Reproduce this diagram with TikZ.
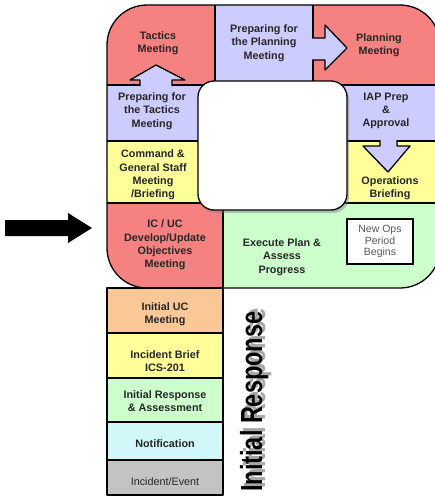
\documentclass[tikz,border=0pt]{standalone}
\usepackage{fontspec}
\setmainfont{Liberation Sans}
\usepackage{graphicx}
\usetikzlibrary{shadows}
\definecolor{icsRed}{RGB}{245,130,128}
\definecolor{icsLavender}{RGB}{204,204,255}
\definecolor{icsYellow}{RGB}{255,255,153}
\definecolor{icsGreen}{RGB}{204,255,204}
\definecolor{icsPeach}{RGB}{250,200,150}
\definecolor{icsCyan}{RGB}{208,248,248}
\definecolor{icsGray}{RGB}{195,195,195}
\newcommand{\phaseTitle}{\scalebox{.77}[1]{\fontsize{30.5}{30}\selectfont\bfseries Initial Response}}

\begin{document}
\begin{tikzpicture}[x=1pt,y=-1pt,%%
  lineStyle/.style={black,line width=1.3pt,line join=round},%%
  arrowStyle/.style={lineStyle,fill=icsLavender},%%
  cellText/.style={align=center,inner sep=0pt,text=black!85,%%
    font=\fontsize{10.8}{13.3}\selectfont\bfseries},%%
  plainText/.style={cellText,font=\fontsize{10.8}{13.3}\selectfont}
]
\useasboundingbox (0,0) rectangle (435,498);
%%
%% Fill the cells of the planning loop.
\begin{scope}
  \clip[rounded corners=40] (107,5) rectangle (440,288);
  \fill[icsRed] (100,0) rectangle (215,85);
  \fill[icsLavender] (215,0) rectangle (313,85);
  \fill[icsRed] (313,0) rectangle (440,85);
  \fill[icsLavender] (100,85) rectangle (215,141);
  \fill[icsLavender] (313,85) rectangle (440,141);
  \fill[icsYellow] (100,141) rectangle (215,203);
  \fill[icsYellow] (313,141) rectangle (440,203);
  \fill[icsRed] (100,203) rectangle (223,290);
  \fill[icsGreen] (223,203) rectangle (440,290);
\end{scope}
%%
%% Fill the cells of the initial response column.
\fill[icsPeach] (107,288) rectangle (223,333);
\fill[icsYellow] (107,333) rectangle (223,378);
\fill[icsGreen] (107,378) rectangle (223,422);
\fill[icsCyan] (107,422) rectangle (223,460);
\fill[icsGray] (107,460) rectangle (223,495);
%%
%% Cell borders.
\draw[lineStyle] (215,5) -- (215,90);
\draw[lineStyle] (313,5) -- (313,38) (313,60) -- (313,90);
\draw[lineStyle] (107,85) -- (140,85) (172,85) -- (215,85);
\draw[lineStyle] (313,85) -- (440,85);
\draw[lineStyle] (107,141) -- (215,141);
\draw[lineStyle] (313,141) -- (380,141) (397,141) -- (440,141);
\draw[lineStyle] (107,203) -- (440,203);
\draw[lineStyle] (223,203) -- (223,495);
\foreach \yrow in {333,378,422,460}
  \draw[lineStyle] (107,\yrow) -- (223,\yrow);
\draw[lineStyle,rounded corners=40] (107,5) rectangle (440,288);
\draw[lineStyle] (107,288) rectangle (223,495);
%%
%% Block arrows between the cells.
\draw[arrowStyle] (140,86) -- (140,80) -- (130,80) -- (156,65)
  -- (185,80) -- (172,80) -- (172,86);
\draw[arrowStyle] (312,38) -- (325,38) -- (325,25) -- (347,48)
  -- (325,70) -- (325,60) -- (312,60);
\draw[arrowStyle] (380,140) -- (380,146) -- (363,146) -- (388,172)
  -- (410,146) -- (397,146) -- (397,140);
%%
%% The empty centre of the loop.
\draw[lineStyle,fill=white,rounded corners=16,%%
  drop shadow={shadow xshift=2pt,shadow yshift=-3pt,opacity=.45}]
  (198,81) rectangle (347,210);
%%
%% Labels of the loop.
\node[cellText] (tactics) at (158,43) {Tactics\\Meeting};
\node[cellText] (prepPlanning) at (264,43) {Preparing for\\the Planning\\Meeting};
\node[cellText] (planning) at (379,45) {Planning\\Meeting};
\node[cellText] (prepTactics) at (152,111) {Preparing for\\the Tactics\\Meeting};
\node[cellText] (iapPrep) at (386,111) {IAP Prep\\\&\\Approval};
\node[cellText] (command) at (153,175) {Command \&\\General Staff\\Meeting\\/Briefing};
\node[cellText] (opsBriefing) at (390,188) {Operations\\Briefing};
\node[cellText] (objectives) at (165,245) {IC / UC\\Develop/Update\\Objectives\\Meeting};
\node[cellText] (execute) at (282,257) {Execute Plan \&\\Assess\\Progress};
\node[plainText,draw,line width=1.3pt,fill=white,text=black!65,%%
  minimum width=66pt,minimum height=45pt,font=\fontsize{10.5}{11.5}\selectfont]
  (newOps) at (380,241.5) {New Ops\\Period\\Begins};
%%
%% Labels of the column.
\node[cellText] (initialUC) at (165,314) {Initial UC\\Meeting};
\node[cellText] (incidentBrief) at (165,361) {Incident Brief\\ICS-201};
\node[cellText] (initialResp) at (165,401) {Initial Response\\\& Assessment};
\node[cellText] (notification) at (165,444) {Notification};
\node[plainText] (incident) at (165,482) {Incident/Event};
%%
%% Title of the column, with its shadow.
\node[rotate=90,anchor=base west,inner sep=0pt,text=black!35] at (265,489) {\phaseTitle};
\node[rotate=90,anchor=base west,inner sep=0pt] (phase) at (262,492) {\phaseTitle};
%%
%% Arrow into the loop.
\coordinate (entry) at (92,228);
\fill (entry) -- (68,213) -- (68,220) -- (5,220) -- (5,236) -- (68,236)
  -- (68,243) -- cycle;

\end{tikzpicture}
\end{document}
